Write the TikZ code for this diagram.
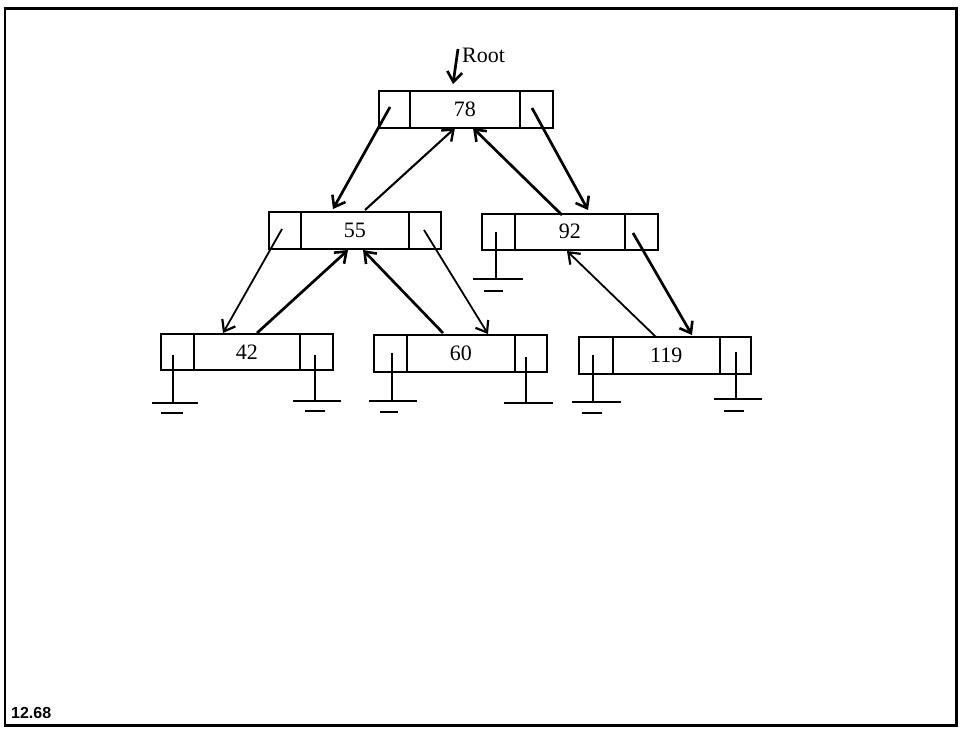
\documentclass[tikz,border=0pt]{standalone}
\usepackage{fontspec}
\setmainfont{Liberation Serif}
\newfontfamily\labsans{Liberation Sans}
\usetikzlibrary{arrows.meta}
\newcommand\rec[8]{%
  \node[cell,minimum width={#3-#2},minimum height={#7-#6}] (#1l) at (#2,#6) {};
  \node[cell,minimum width={#4-#3},minimum height={#7-#6}] (#1m) at (#3,#6) {#8};
  \node[cell,minimum width={#5-#4},minimum height={#7-#6}] (#1r) at (#4,#6) {};
}
% ground: x, ytop, ybase, x1, x2
\newcommand\gnd[5]{%
  \draw[gline] (#1,#2) -- (#1,#3);
  \draw[gline] (#4,#3) -- (#5,#3);
}
\newcommand\gsh[3]{\draw[gline] (#1,#3) -- (#2,#3);}
\begin{document}
\begin{tikzpicture}[x=1pt,y=-1pt,
  cell/.style={draw,line width=1.6pt,inner sep=0pt,anchor=north west,
    font=\fontsize{22}{22}\selectfont},
  thk/.style={line width=2.7pt,-{Straight Barb[length=10pt,width=15pt,line width=2.6pt]}},
  med/.style={line width=2.1pt,-{Straight Barb[length=10pt,width=15pt,line width=2.4pt]}},
  thn/.style={line width=1.8pt,-{Straight Barb[length=10pt,width=15pt,line width=2.2pt]}},
  gline/.style={line width=1.6pt}]
\useasboundingbox (0,0) rectangle (961,731);
\draw[line width=2.6pt] (5,8.5) rectangle (956.5,725.5);

\rec{n78}{378}{409}{519}{552}{90}{127}{78}
\rec{n55}{268}{300}{408}{440}{211}{248}{55}
\rec{n92}{481}{514}{624}{657}{213}{249}{92}
\rec{n42}{160}{193}{299}{332}{333}{369}{42}
\rec{n60}{373}{406}{514}{546}{334}{371}{60}
\rec{n119}{578}{612}{719}{750}{336}{373}{119}

% root
\node[anchor=base west,inner sep=0pt,font=\fontsize{22}{22}\selectfont] (root) at (462,62) {Root};
\coordinate (r0) at (458,49);
\coordinate (r1) at (453,84);
\draw[thk] (r0) -- (r1);

% connector endpoints
\coordinate (s78l) at (390,107);   \coordinate (t55a) at (333,209);
\coordinate (s55u) at (365,210);   \coordinate (t78a) at (455,128);
\coordinate (s92u) at (562,215);   \coordinate (t78b) at (473,128);
\coordinate (s78r) at (532,108);   \coordinate (t92a) at (588,210);
\coordinate (s55l) at (282,229);   \coordinate (t42a) at (223,333);
\coordinate (s42u) at (257,333);   \coordinate (t55b) at (348,250);
\coordinate (s60u) at (443,333);   \coordinate (t55c) at (363,250);
\coordinate (s55r) at (424,230);   \coordinate (t60a) at (488,334);
\coordinate (s119u) at (656,337);  \coordinate (t92b) at (567,251);
\coordinate (s92r) at (633,233);   \coordinate (t119a) at (692,335);

\draw[thk] (s78l) -- (t55a);
\draw[med] (s55u) -- (t78a);
\draw[thk] (s92u) -- (t78b);
\draw[thk] (s78r) -- (t92a);
\draw[thn] (s55l) -- (t42a);
\draw[thk] (s42u) -- (t55b);
\draw[thk] (s60u) -- (t55c);
\draw[thn] (s55r) -- (t60a);
\draw[thn] (s119u) -- (t92b);
\draw[thk] (s92r) -- (t119a);

% grounds
\gnd{496}{232}{279}{473}{523} \gsh{484}{503}{291}
\gnd{173}{355}{403}{152}{198} \gsh{161}{183}{413}
\gnd{315}{355}{401}{293}{341} \gsh{305}{325}{411}
\gnd{392}{353}{401}{369}{417} \gsh{380}{398}{412}
\gnd{526}{357}{403}{504}{553}
\gnd{593}{355}{402}{572}{621} \gsh{582}{602}{413}
\gnd{736}{352}{399}{714}{762} \gsh{724}{744}{411}

\node[anchor=base west,inner sep=0pt,font=\labsans\bfseries\fontsize{16}{16}\selectfont] (fig) at (11,718) {12.68};
\end{tikzpicture}
\end{document}
